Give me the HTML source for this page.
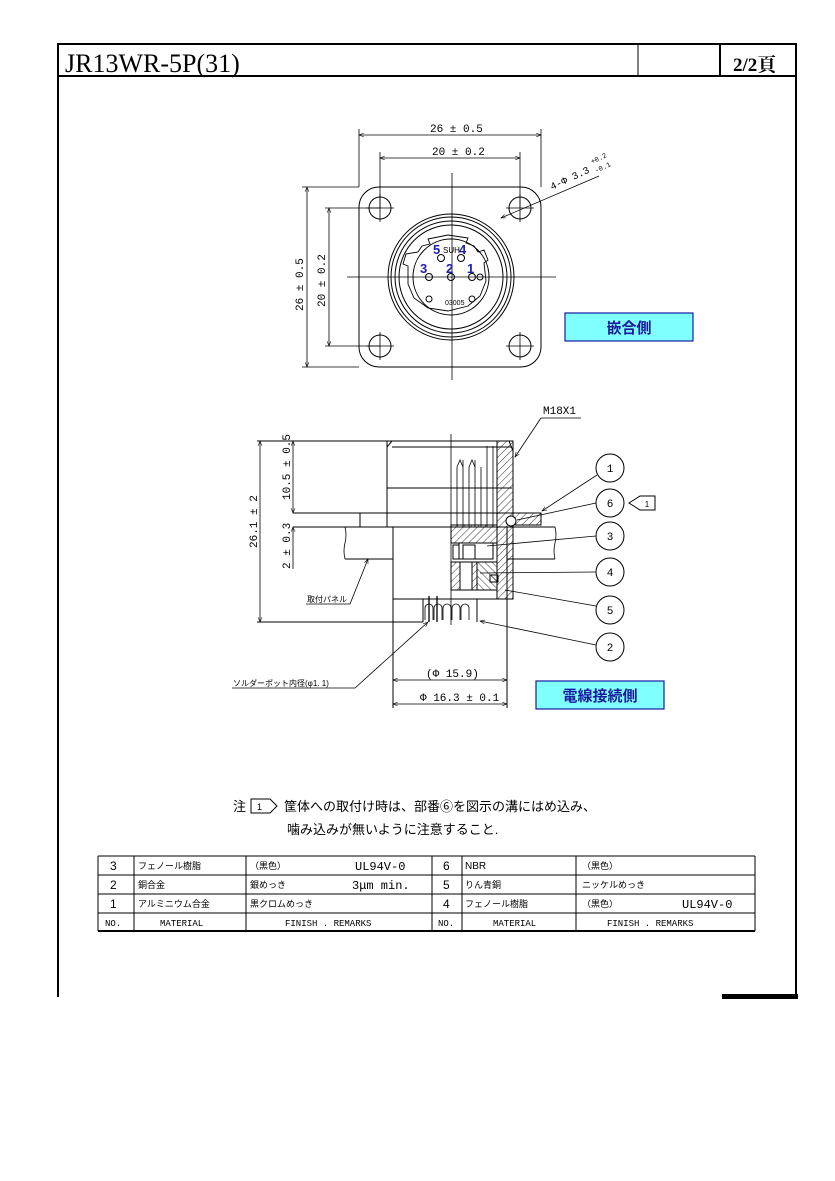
<!DOCTYPE html>
<html><head><meta charset="utf-8"><style>
html,body{margin:0;padding:0;background:#fff;}
svg{display:block;}
text{font-family:"Liberation Sans","Noto Sans CJK JP",sans-serif;fill:#000;}
text.m{font-family:"Liberation Mono","Noto Sans CJK JP",monospace;}
text.s{font-family:"Liberation Serif","Noto Serif CJK SC",serif;}
text.b{fill:#2020b0;font-weight:bold;}
</style></head><body>
<svg width="835" height="1181" viewBox="0 0 835 1181" xmlns="http://www.w3.org/2000/svg">
<defs>
<pattern id="h" width="5" height="5" patternUnits="userSpaceOnUse" patternTransform="rotate(45)"><line x1="0" y1="0" x2="0" y2="5" stroke="#000" stroke-width="0.8"/></pattern>
<pattern id="h2" width="5" height="5" patternUnits="userSpaceOnUse" patternTransform="rotate(-45)"><line x1="0" y1="0" x2="0" y2="5" stroke="#000" stroke-width="0.8"/></pattern>
<marker id="a" viewBox="0 0 10 10" refX="10" refY="5" markerWidth="8" markerHeight="6" orient="auto-start-reverse"><path d="M0,1 L10,5 L0,9" fill="none" stroke="#000" stroke-width="1.2"/></marker>
</defs>
<g stroke="#000" fill="none">
<line x1="57" y1="44" x2="797" y2="44" stroke-width="2"/>
<line x1="57" y1="76" x2="797" y2="76" stroke-width="2"/>
<line x1="58" y1="44" x2="58" y2="997" stroke-width="2"/>
<line x1="796" y1="44" x2="796" y2="997" stroke-width="2"/>
<line x1="638" y1="44" x2="638" y2="76" stroke-width="1"/>
<line x1="720" y1="44" x2="720" y2="76" stroke-width="2"/>
</g>
<rect x="722" y="994" width="76" height="5" fill="#000"/>
<text x="65" y="72" class="s" font-size="26">JR13WR-5P(31)</text>
<text x="733" y="71" class="s" font-size="19" font-weight="bold">2/2頁</text>

<g stroke="#000" fill="none" stroke-width="1">
<rect x="359" y="187" width="182" height="180" rx="20"/>
<circle cx="380" cy="208" r="11"/><circle cx="520" cy="208" r="11"/>
<circle cx="380" cy="346" r="11"/><circle cx="520" cy="346" r="11"/>
<path d="M366 208h28M380 194v28M506 208h28M520 194v28M366 346h28M380 332v28M506 346h28M520 332v28" stroke-width="0.8"/>
<circle cx="451" cy="277" r="63"/><circle cx="451" cy="277" r="60"/>
<circle cx="451" cy="277" r="56"/><circle cx="451" cy="277" r="52"/>
<circle cx="451" cy="277" r="38"/>
<path d="M418 252 l4 -6 l8 -2 l-2 -5 l20 -4 l20 3 l-2 5 l8 3 l4 6 l6 -2 l4 10 l-4 3 l2 18 l-6 15 l-12 10 l-20 5 l-20 -3 l-14 -10 l-6 -14 l0 -18 l-5 -2 l3 -10 z" stroke-width="0.9"/>
<line x1="347" y1="277" x2="556" y2="277" stroke-width="0.8"/>
<line x1="452" y1="173" x2="452" y2="380" stroke-width="0.8"/>
<circle cx="441" cy="258" r="3.5"/><circle cx="461" cy="258" r="3.5"/>
<circle cx="429" cy="277" r="3.5"/><circle cx="451" cy="277" r="3.5"/><circle cx="472" cy="277" r="3.5"/>
<circle cx="480" cy="277" r="3"/>
<circle cx="429" cy="299" r="3"/><circle cx="472" cy="299" r="3"/>
<line x1="359" y1="129" x2="359" y2="187" stroke-width="0.8"/>
<line x1="541" y1="129" x2="541" y2="187" stroke-width="0.8"/>
<line x1="380" y1="152" x2="380" y2="208" stroke-width="0.8"/>
<line x1="520" y1="152" x2="520" y2="208" stroke-width="0.8"/>
<line x1="359" y1="135" x2="541" y2="135" stroke-width="0.8" marker-start="url(#a)" marker-end="url(#a)"/>
<line x1="380" y1="158" x2="520" y2="158" stroke-width="0.8" marker-start="url(#a)" marker-end="url(#a)"/>
<line x1="302" y1="187" x2="359" y2="187" stroke-width="0.8"/>
<line x1="302" y1="367" x2="359" y2="367" stroke-width="0.8"/>
<line x1="325" y1="208" x2="380" y2="208" stroke-width="0.8"/>
<line x1="325" y1="346" x2="380" y2="346" stroke-width="0.8"/>
<line x1="307" y1="187" x2="307" y2="367" stroke-width="0.8" marker-start="url(#a)" marker-end="url(#a)"/>
<line x1="329" y1="208" x2="329" y2="346" stroke-width="0.8" marker-start="url(#a)" marker-end="url(#a)"/>
<line x1="599" y1="176" x2="501" y2="218" stroke-width="0.8" marker-end="url(#a)"/>
</g>
<text x="430" y="132" class="m" font-size="11">26 ± 0.5</text>
<text x="432" y="155" class="m" font-size="11">20 ± 0.2</text>
<text transform="translate(303,311) rotate(-90)" class="m" font-size="11">26 ± 0.5</text>
<text transform="translate(325,307) rotate(-90)" class="m" font-size="11">20 ± 0.2</text>
<text transform="translate(552,190) rotate(-25)" class="m" font-size="10">4-Φ 3.3</text>
<text transform="translate(592,164) rotate(-25)" class="m" font-size="7">+0.2</text>
<text transform="translate(596,173) rotate(-25)" class="m" font-size="7">-0.1</text>
<text x="433" y="254" class="b" font-size="13">5</text><text x="459" y="254" class="b" font-size="13">4</text>
<text x="420" y="273" class="b" font-size="13">3</text><text x="446" y="273" class="b" font-size="13">2</text><text x="467" y="273" class="b" font-size="13">1</text>
<text x="443" y="253" font-size="8">SUH</text>
<text x="445" y="305" font-size="7">03005</text>
<rect x="565" y="313" width="128" height="28" fill="#80ffff" stroke="#1a1aa0" stroke-width="1.2"/>
<text x="629" y="333" font-size="15" font-weight="bold" text-anchor="middle" style="fill:#1a1aa0">嵌合側</text>

<g stroke="#000" fill="none" stroke-width="1">
<line x1="257" y1="441" x2="513" y2="441"/>
<path d="M387 527 V447 l5 -6 M387 488 h125 M392 447 h120"/>
<rect x="387" y="441" width="126" height="72" fill="none"/>
<line x1="293" y1="513" x2="497" y2="513"/>
<rect x="360" y="513" width="137" height="14"/>
<line x1="293" y1="527" x2="360" y2="527"/>
<path d="M345 527 H555 M345 559 H393 M507 559 H555"/>
<path d="M345 527 q2 8 0 16 q-2 8 0 16 M555 527 q2 8 0 16 q-2 8 0 16" stroke-width="0.8"/>
<path d="M393 527 V708 M507 527 V708 M393 599 H497"/>
<line x1="257" y1="622" x2="423" y2="622"/>
<line x1="451" y1="434" x2="451" y2="625" stroke-width="0.8"/>
<path d="M457 467 V527 M463 460 V527 M469 467 V527 M475 460 V527 M481 467 V527 M487 446 V527 M493 446 V527" stroke-width="0.8"/>
<path d="M457 467 l3 -7 l3 7 M469 467 l3 -7 l3 7" stroke-width="0.8"/>
<rect x="451" y="525" width="46" height="18" fill="url(#h)"/>
<rect x="459" y="543" width="34" height="16" fill="#fff"/>
<rect x="463" y="545" width="12" height="14"/>
<rect x="453" y="545" width="6" height="14"/>
<rect x="451" y="562" width="26" height="28" fill="url(#h)"/>
<rect x="477" y="562" width="20" height="28" fill="url(#h2)"/>
<rect x="460" y="562" width="12" height="28" fill="#fff"/>
<rect x="490" y="575" width="8" height="7" fill="url(#h2)"/>
<rect x="497" y="441" width="16" height="158" fill="url(#h)"/>
<path d="M497 441 V599 H513 V451 l-4 -10"/>
<rect x="513" y="513" width="28" height="12" fill="url(#h)"/>
<circle cx="511" cy="521" r="5" fill="#fff"/>
<path d="M423 599 V622 M477 599 V622"/>
<path d="M425 620 v-12 a4 4 0 0 1 8 0 v12 M434 620 v-12 a4 4 0 0 1 8 0 v12 M443 620 v-12 a4 4 0 0 1 8 0 v12 M452 620 v-12 a4 4 0 0 1 8 0 v12 M461 620 v-12 a4 4 0 0 1 8 0 v12" stroke-width="0.8"/>
<path d="M429 596 V622 M437 596 V622" stroke-width="1.3"/>
<line x1="260" y1="441" x2="260" y2="622" stroke-width="0.8" marker-start="url(#a)" marker-end="url(#a)"/>
<line x1="293" y1="441" x2="293" y2="513" stroke-width="0.8" marker-start="url(#a)" marker-end="url(#a)"/>
<line x1="293" y1="527" x2="293" y2="569" stroke-width="0.8" marker-start="url(#a)"/>
<line x1="393" y1="680" x2="507" y2="680" stroke-width="0.8" marker-start="url(#a)" marker-end="url(#a)"/>
<line x1="393" y1="704" x2="507" y2="704" stroke-width="0.8" marker-start="url(#a)" marker-end="url(#a)"/>
<path d="M541 418 H581 M541 418 L515 457" stroke-width="0.8" marker-end="url(#a)"/>
<line x1="597" y1="475" x2="542" y2="511" stroke-width="0.8" marker-end="url(#a)"/>
<line x1="596" y1="503" x2="517" y2="520" stroke-width="0.8"/>
<line x1="596" y1="536" x2="487" y2="546" stroke-width="0.8"/>
<line x1="596" y1="572" x2="480" y2="573" stroke-width="0.8"/>
<line x1="596" y1="606" x2="505" y2="590" stroke-width="0.8"/>
<line x1="596" y1="645" x2="480" y2="621" stroke-width="0.8" marker-end="url(#a)"/>
<path d="M306 604 H350 L368 559" stroke-width="0.8" marker-end="url(#a)"/>
<path d="M232 688 H355 L428 622" stroke-width="0.8" marker-end="url(#a)"/>
<circle cx="610" cy="468" r="14"/><circle cx="610" cy="503" r="14"/>
<circle cx="610" cy="536" r="14"/><circle cx="610" cy="572" r="14"/>
<circle cx="610" cy="610" r="14"/><circle cx="610" cy="647" r="14"/>
<path d="M629 503 L640 496 H655 V510 H640 Z"/>
</g>
<g font-size="11" text-anchor="middle">
<text x="610" y="472" class="m">1</text><text x="610" y="507" class="m">6</text><text x="610" y="540" class="m">3</text>
<text x="610" y="576" class="m">4</text><text x="610" y="614" class="m">5</text><text x="610" y="651" class="m">2</text>
<text x="647" y="507" font-size="8">1</text>
</g>
<text x="543" y="414" class="m" font-size="11">M18X1</text>
<text transform="translate(257,548) rotate(-90)" class="m" font-size="11">26.1 ± 2</text>
<text transform="translate(290,500) rotate(-90)" class="m" font-size="11">10.5 ± 0.5</text>
<text transform="translate(290,569) rotate(-90)" class="m" font-size="11">2 ± 0.3</text>
<text x="307" y="602" font-size="8">取付パネル</text>
<text x="233" y="686" font-size="8">ソルダーポット内径(φ1. 1)</text>
<text x="426" y="677" class="m" font-size="11">(Φ 15.9)</text>
<text x="420" y="701" class="m" font-size="11">Φ 16.3 ± 0.1</text>
<rect x="536" y="681" width="128" height="28" fill="#80ffff" stroke="#1a1aa0" stroke-width="1.2"/>
<text x="600" y="701" font-size="15" font-weight="bold" text-anchor="middle" style="fill:#1a1aa0">電線接続側</text>

<text x="233" y="811" font-size="13">注</text>
<path d="M251 799 H270 L277 806 L270 813 H251 Z" fill="none" stroke="#000" stroke-width="1"/>
<text x="257" y="810" font-size="9">1</text>
<text x="284" y="811" font-size="13">筐体への取付け時は、部番⑥を図示の溝にはめ込み、</text>
<text x="287" y="834" font-size="13">噛み込みが無いように注意すること.</text>

<g stroke="#000" fill="none">
<path d="M98 856 H755 M98 875 H755 M98 894 H755 M98 913 H755" stroke-width="1"/>
<line x1="98" y1="931" x2="755" y2="931" stroke-width="2"/>
<path d="M98 856 V931 M134 856 V931 M246 856 V931 M432 856 V931 M462 856 V931 M576 856 V931 M755 856 V931" stroke-width="1"/>
</g>
<g font-size="9">
<text x="110" y="870" font-size="12">3</text><text x="138" y="869">フェノール樹脂</text><text x="250" y="869">（黒色）</text><text x="355" y="870" class="m" font-size="12">UL94V-0</text>
<text x="110" y="889" font-size="12">2</text><text x="138" y="888">銅合金</text><text x="250" y="888">銀めっき</text><text x="352" y="889" class="m" font-size="12">3μm min.</text>
<text x="110" y="908" font-size="12">1</text><text x="138" y="907">アルミニウム合金</text><text x="250" y="907">黒クロムめっき</text>
<text x="443" y="870" font-size="12">6</text><text x="465" y="869" font-size="10">NBR</text><text x="582" y="869">（黒色）</text>
<text x="443" y="889" font-size="12">5</text><text x="465" y="888">りん青銅</text><text x="582" y="888">ニッケルめっき</text>
<text x="443" y="908" font-size="12">4</text><text x="465" y="907">フェノール樹脂</text><text x="582" y="907">（黒色）</text><text x="682" y="908" class="m" font-size="12">UL94V-0</text>
<text x="105" y="926" class="m">NO.</text><text x="160" y="926" class="m">MATERIAL</text><text x="285" y="926" class="m">FINISH . REMARKS</text>
<text x="438" y="926" class="m">NO.</text><text x="493" y="926" class="m">MATERIAL</text><text x="607" y="926" class="m">FINISH . REMARKS</text>
</g>
</svg>
</body></html>
